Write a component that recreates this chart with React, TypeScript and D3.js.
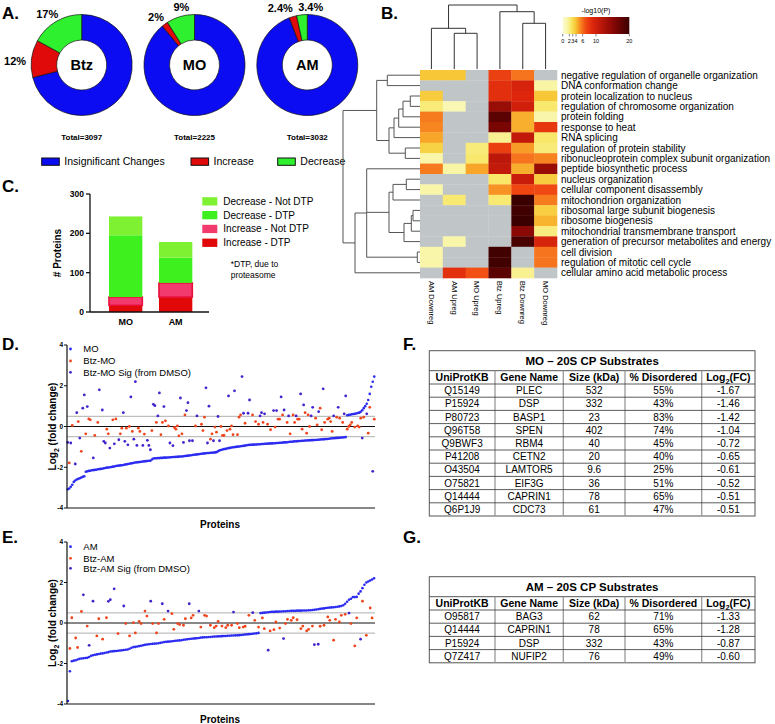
import React from 'react';
import * as d3 from 'd3';

const FONT = "'Liberation Sans', Arial, Helvetica, sans-serif";

// ---------------- Panel A data ----------------
const donutNames = ['Btz', 'MO', 'AM'];
const donutTotals = [3097, 2225, 3032];
const insignificantPct = [71, 89, 94.2];
const increasePct = [12, 2, 2.4];
const decreasePct = [17, 9, 3.4];
const increaseLabels = ['12%', '2%', '2.4%'];
const decreaseLabels = ['17%', '9%', '3.4%'];
const donutLegend = ['Insignificant Changes', 'Increase', 'Decrease'];

// ---------------- Panel B data ----------------
const goTerms = [
  'negative regulation of organelle organization',
  'DNA conformation change',
  'protein localization to nucleus',
  'regulation of chromosome organization',
  'protein folding',
  'response to heat',
  'RNA splicing',
  'regulation of protein stability',
  'ribonucleoprotein complex subunit organization',
  'peptide biosynthetic process',
  'nucleus organization',
  'cellular component disassembly',
  'mitochondrion organization',
  'ribosomal large subunit biogenesis',
  'ribosome biogenesis',
  'mitochondrial transmembrane transport',
  'generation of precursor metabolites and energy',
  'cell division',
  'regulation of mitotic cell cycle',
  'cellular amino acid metabolic process',
];
const heatCols = ['AM Downreg', 'AM Upreg', 'MO Upreg', 'Btz Upreg', 'Btz Downreg', 'MO Downreg'];
const _ = null;
const heatLogP: (number | null)[][] = [
  [3.8, 3.8, _, 7.5, 5.8, _],
  [_, _, _, 8.5, 9.5, 1.4],
  [3.6, _, _, 8.5, 9.0, 3.8],
  [2.2, 1.0, _, 14, 10, 2.4],
  [5.6, _, _, 18, 4.4, 1.2],
  [5.3, _, _, 16, 4.4, 8.0],
  [4.6, _, _, 1.8, 11, 2.5],
  [3.4, _, 2.2, 7.6, 4.8, 2.2],
  [1.3, _, 2.4, 11.5, 5.8, 5.4],
  [5.6, 1.4, 4.6, 11, 4.4, 14],
  [_, _, _, 2.5, 10.5, 3.6],
  [1.3, _, _, 5.0, 7.2, 7.0],
  [_, 2.3, _, 2.3, 20, 5.6],
  [_, _, _, _, 19.5, 3.5],
  [_, _, _, _, 20, 4.3],
  [_, _, _, _, 15, 2.1],
  [_, 1.3, _, _, 19, 9.5],
  [1.3, _, _, 19.5, _, 5.8],
  [1.3, _, _, 19.5, _, 5.8],
  [_, 8.5, 6.8, 18, 1.8, _],
];
const colorbarTicks = [0, 2, 3, 4, 6, 10, 20];
const colorStops = [0, 1.5, 2.7, 4, 5.2, 7, 9, 11, 15, 20];
const colorRange = ['#fcfcd6', '#f8f4a2', '#f8e45c', '#f8c232', '#f78a22', '#f04812', '#dd260c', '#c21a0a', '#8a0805', '#3a0000'];
// row dendrogram merges: [children, distance]
const rowMerges: [number[], number][] = [
  [[0, 1], 32.7], [[2, 3], 9.7], [[21, 4], 17], [[22, 5], 21.3], [[23, 6], 26],
  [[7, 8], 14.7], [[24, 25], 31], [[20, 26], 43.3],
  [[10, 11], 13.7], [[28, 12], 27], [[13, 14], 7], [[30, 15], 8.7], [[31, 16], 16], [[29, 32], 31],
  [[17, 18], 2.7], [[9, 33, 34], 53.3], [[35, 19], 65], [[27, 36], 77],
];
const colMerges: [number[], number][] = [
  [[1, 2], 35.7], [[0, 6], 40.7], [[4, 5], 45.7], [[3, 8], 57.3], [[7, 9], 64],
];

// ---------------- Panel C data ----------------
const cGroups = ['MO', 'AM'];
const increaseDTP = [17, 38];
const increaseNotDTP = [21, 36];
const decreaseDTP = [157, 64];
const decreaseNotDTP = [48, 40];
const cLegend = ['Decrease - Not DTP', 'Decrease - DTP', 'Increase - Not DTP', 'Increase - DTP'];
const cTicks = [0, 100, 200, 300];

// ---------------- Panel D data ----------------
const moFC = [
  -3.08, -3.04, -2.96, -2.86, -2.72, -2.65, -2.6, -2.57, -2.54, -2.5,
  -2.47, -2.44, -2.22, -2.2, -2.18, -2.17, -2.15, -2.14, -2.13, -2.12,
  -2.1, -2.09, -2.08, -2.07, -2.05, -2.04, -2.02, -2.01, -2.0, -1.99,
  -1.97, -1.96, -1.94, -1.93, -1.92, -1.91, -1.9, -1.89, -1.87, -1.86,
  -1.84, -1.83, -1.81, -1.8, -1.78, -1.77, -1.76, -1.75, -1.74, -1.73,
  -1.72, -1.71, -1.7, -1.69, -1.68, -1.68, -1.62, -1.57, -1.56, -1.56,
  -1.55, -1.55, -1.54, -1.54, -1.53, -1.53, -1.52, -1.52, -1.51, -1.51,
  -1.5, -1.5, -1.49, -1.49, -1.48, -1.47, -1.47, -1.46, -1.45, -1.44,
  -1.43, -1.42, -1.41, -1.4, -1.39, -1.38, -1.37, -1.36, -1.35, -1.34,
  -1.33, -1.32, -1.31, -1.3, -1.3, -1.29, -1.29, -1.28, -1.27, -1.26,
  -1.22, -1.17, -1.15, -1.13, -1.11, -1.1, -1.08, -1.06, -1.05, -1.03,
  -1.02, -1.01, -1.0, -0.99, -0.98, -0.97, -0.96, -0.95, -0.94, -0.92,
  -0.91, -0.9, -0.9, -0.89, -0.89, -0.88, -0.88, -0.87, -0.87, -0.86,
  -0.86, -0.85, -0.85, -0.84, -0.84, -0.83, -0.83, -0.82, -0.82, -0.81,
  -0.81, -0.8, -0.8, -0.79, -0.78, -0.78, -0.77, -0.76, -0.75, -0.75,
  -0.74, -0.73, -0.73, -0.72, -0.71, -0.71, -0.7, -0.7, -0.69, -0.69,
  -0.68, -0.68, -0.67, -0.67, -0.66, -0.66, -0.65, -0.65, -0.64, -0.63,
  -0.63, -0.62, -0.61, -0.61, -0.6, -0.59, -0.58, -0.58, -0.57, -0.56,
  -0.56, -0.55, -0.54, -0.54, -0.53, -0.52,
  0.55, 0.57, 0.58, 0.6, 0.61, 0.62, 0.64, 0.66, 0.68, 0.72, 0.8, 0.9, 1.0, 1.12, 1.3, 1.6, 1.95, 2.2, 2.45,
];
// [protein rank, log2 FC]
const btzMO: [number, number][] = [
  [1, -1.79], [3, 0.05], [7, 0.24], [9, -1.22], [12, -0.36], [14, 0.37], [15, 0.33], [18, -0.44], [20, 0.2], [26, -0.13],
  [27, -0.36], [30, 0.33], [32, 0.37], [35, -0.36], [36, -0.08], [39, -0.08], [41, 0], [43, -0.24], [47, -0.08], [48, -0.24],
  [51, -0.37], [56, -0.2], [59, 0.2], [62, -0.4], [63, 0.2], [65, 0.28], [67, 0.03], [71, -0.05], [72, -0.13], [73, 0.03],
  [74, -0.46], [76, -0.36], [78, 0.57], [85, 0.03], [89, 0.11], [90, -0.2], [91, 0.46], [95, -0.62], [96, -0.36], [98, -0.03],
  [99, -0.28], [102, 0], [103, -0.44], [104, -0.44], [106, -0.2], [108, -0.13], [109, 0.03], [110, -0.4], [113, -0.4], [114, 0.46],
  [115, 0.57], [118, 0.16], [123, 0.57], [125, 0.24], [127, 0.11], [130, 0.2], [133, 0.11], [135, -0.16], [138, -0.03], [140, 0.36],
  [141, 0.36], [143, 0.57], [146, 0.2], [148, -0.36], [150, 0.57], [151, 0.2], [153, 0.36], [154, 0.36], [156, -0.13], [158, 0.68],
  [159, -0.33], [160, 0.57], [161, 0], [165, 0.41], [166, 0.08], [168, 0.9], [169, -0.16], [171, 0.2], [173, 0.36], [174, 0.41],
  [175, 0.24], [176, -0.24], [179, 0.46], [181, 0.41], [183, 0.2], [186, -0.13], [187, 0], [188, 0.08], [189, 0.2], [191, -0.03],
  [193, 0.03], [194, -0.03], [195, 0.41], [197, 0.46], [200, -0.33], [201, 0.94], [204, 0.36],
];
const btzMOSig: [number, number][] = [
  [0, -0.78], [2, -0.81], [5, -1.84], [6, 0.68], [8, -0.57], [10, 0.9], [11, 1.55], [13, 0.98], [17, -1.54], [21, 1.8],
  [23, 0.81], [24, -0.73], [25, -0.81], [28, -1.06], [31, -0.85], [34, -0.65], [37, 0.68], [38, -0.73], [40, -0.9], [42, 1.45],
  [44, -0.62], [45, 2.2], [46, -0.93], [50, -0.93], [53, -0.68], [54, -0.93], [55, -1.14], [57, 1.09], [58, 1.02], [60, 0.52],
  [61, 1.65], [64, 0.98], [68, -0.81], [70, -0.94], [75, 1.4], [77, -0.78], [79, 0.78], [80, 1.17], [81, -0.7], [83, -0.7],
  [86, 0.52], [92, 1.9], [93, -0.81], [94, 1.0], [97, -0.7], [100, 0.49], [101, -0.7], [107, 1.5], [111, 1.75], [116, 2.45],
  [117, 0.65], [120, 0.65], [121, 1.3], [128, 0.52], [129, 0.68], [131, 0.62], [137, 0.78], [139, 0.78], [142, 1.45], [144, 0.81],
  [147, 0.52], [152, 0.52], [155, 1.6], [157, 1.06], [162, 0.52], [163, 0.94], [167, 0.73], [170, 1.85], [177, 0.52], [180, 0.94],
  [184, 0.62], [185, 1.5], [196, -0.57], [199, 0.62], [203, -2.2],
];

// ---------------- Panel E data ----------------
const amFC = [
  -3.85, -2.38, -1.89, -1.86, -1.84, -1.8, -1.77, -1.75, -1.74, -1.73,
  -1.72, -1.68, -1.62, -1.59, -1.57, -1.55, -1.53, -1.51, -1.5, -1.48,
  -1.46, -1.44, -1.41, -1.4, -1.39, -1.38, -1.37, -1.36, -1.35, -1.33,
  -1.32, -1.31, -1.27, -1.22, -1.19, -1.18, -1.16, -1.14, -1.12, -1.1,
  -1.08, -1.06, -1.05, -1.04, -1.03, -1.02, -1.01, -1.0, -0.98, -0.96,
  -0.94, -0.93, -0.92, -0.91, -0.9, -0.89, -0.88, -0.87, -0.86, -0.85,
  -0.83, -0.82, -0.8, -0.79, -0.78, -0.77, -0.76, -0.75, -0.74, -0.72,
  -0.71, -0.7, -0.7, -0.69, -0.69, -0.68, -0.67, -0.67, -0.66, -0.66,
  -0.65, -0.64, -0.64, -0.63, -0.63, -0.62, -0.62, -0.61, -0.61, -0.6,
  -0.59, -0.58, -0.57, -0.56, -0.55, -0.54, -0.53, -0.52, -0.51, -0.49,
  0.49, 0.5, 0.51, 0.52, 0.53, 0.54, 0.55, 0.55, 0.56, 0.56,
  0.57, 0.57, 0.58, 0.58, 0.59, 0.59, 0.6, 0.6, 0.6, 0.61,
  0.61, 0.61, 0.62, 0.62, 0.62, 0.63, 0.63, 0.64, 0.65, 0.67,
  0.68, 0.7, 0.71, 0.72, 0.74, 0.75, 0.76, 0.77, 0.78, 0.79,
  0.8, 0.82, 0.84, 0.88, 0.95, 1.05, 1.15, 1.2, 1.28, 1.28,
  1.29, 1.45, 1.56, 1.72, 1.89, 2.0, 2.05, 2.1, 2.15, 2.21,
];
const btzAM: [number, number][] = [
  [1, -1.26], [2, 0.26], [4, -0.74], [5, -1.21], [7, 0.57], [10, -0.15], [15, -0.64], [16, 0.21], [18, -0.8], [20, 0.26],
  [26, -0.52], [30, -0.03], [32, -0.64], [34, 0.02], [35, -0.49], [37, 0.08], [38, -0.03], [40, 0.59], [41, 0.34], [44, -0.03],
  [46, -0.49], [47, -0.03], [50, 0.18], [54, 0.46], [55, -0.31], [57, -0.03], [58, -0.08], [60, -0.11], [61, 0.21], [64, 0.25],
  [65, 0.38], [69, -0.2], [71, 0.38], [72, 0.34], [74, -0.11], [76, -0.23], [77, -0.15], [78, 0.08], [80, -0.15], [82, -0.23],
  [83, -0.11], [85, -0.11], [88, -0.03], [89, -0.23], [91, -0.2], [92, -0.16], [94, 0.38], [97, 0.13], [99, -0.2], [101, 0.25],
  [102, -0.28], [105, -0.39], [107, -0.33], [108, 0.05], [110, -0.25], [113, -0.03], [114, 0.18], [116, 0.13], [117, 0.26], [119, 0.16],
  [121, -0.28], [122, -0.15], [124, -0.39], [125, -0.31], [127, -0.15], [131, -0.16], [133, -0.11], [135, 0.3], [136, 0.13], [138, -0.85],
  [139, 0.18], [141, 0.05], [142, 0.38], [144, 0.43], [147, -0.03], [149, -1.13], [150, 0.25], [153, 1.08], [155, -0.61], [157, 0.74],
  [158, 0.25],
];
const btzAMSig: [number, number][] = [
  [8, 1.39], [11, -1.1], [13, 1.08], [21, 1.07], [22, 1.15], [24, 1.69], [29, 0.84], [43, 1.08], [49, 0.95], [52, 0.59],
  [63, 0.95], [68, 0.59], [86, 0.54], [96, 0.51], [104, -1.34], [112, -0.77], [128, -1.07], [130, -1.05], [146, 0.49], [152, -0.8],
];
const foldTicks = [-4, -2, 0, 2, 4];

// ---------------- Tables F, G ----------------
const tableHeaders = ['UniProtKB', 'Gene Name', 'Size (kDa)', '% Disordered', 'Log2(FC)'];
const moUniprot = ['Q15149', 'P15924', 'P80723', 'Q96T58', 'Q9BWF3', 'P41208', 'O43504', 'O75821', 'Q14444', 'Q6P1J9'];
const moGenes = ['PLEC', 'DSP', 'BASP1', 'SPEN', 'RBM4', 'CETN2', 'LAMTOR5', 'EIF3G', 'CAPRIN1', 'CDC73'];
const moSize = ['532', '332', '23', '402', '40', '20', '9.6', '36', '78', '61'];
const moDisordered = ['55%', '43%', '83%', '74%', '45%', '40%', '25%', '51%', '65%', '47%'];
const moLog2FC = [-1.67, -1.46, -1.42, -1.04, -0.72, -0.65, -0.61, -0.52, -0.51, -0.51];
const amUniprot = ['O95817', 'Q14444', 'P15924', 'Q7Z417'];
const amGenes = ['BAG3', 'CAPRIN1', 'DSP', 'NUFIP2'];
const amSize = ['62', '78', '332', '76'];
const amDisordered = ['71%', '65%', '43%', '49%'];
const amLog2FC = [-1.33, -1.28, -0.87, -0.6];

// ---------------- helpers ----------------
const BLUE = '#0c0cf2', RED = '#e10a0a', GREEN = '#2ef02e';
const C_COLORS = ['#7ef232', '#3ef01e', '#f23a6e', '#e00808'];
const MO_BLUE = '#2a2af0', BTZ_RED = '#f0441c', SIG_PURPLE = '#4422cc';

type Seg = { x1: number; y1: number; x2: number; y2: number };
function dendroSegs(leafPos: number[], merges: [number[], number][], depth: (d: number) => number, horizontal: boolean): Seg[] {
  const nodes = leafPos.map((p) => ({ p, d: 0 }));
  const segs: Seg[] = [];
  for (const [kids, d] of merges) {
    const ks = kids.map((k) => nodes[k]);
    const lo = d3.min(ks, (k) => k.p)!;
    const hi = d3.max(ks, (k) => k.p)!;
    const c = depth(d);
    for (const k of ks) {
      const a = depth(k.d);
      segs.push(horizontal ? { x1: a, y1: k.p, x2: c, y2: k.p } : { x1: k.p, y1: a, x2: k.p, y2: c });
    }
    segs.push(horizontal ? { x1: c, y1: lo, x2: c, y2: hi } : { x1: lo, y1: c, x2: hi, y2: c });
    nodes.push({ p: (lo + hi) / 2, d });
  }
  return segs;
}

function Log2Text({ x, y, size, bold, anchor, suffix, transform }: any) {
  return (
    <text x={x} y={y} fontSize={size} fontWeight={bold ? 'bold' : 'normal'} textAnchor={anchor} transform={transform}>
      Log<tspan dy={size * 0.3} fontSize={size * 0.7}>2</tspan>
      <tspan dy={-size * 0.3}>{suffix}</tspan>
    </text>
  );
}

function PanelA() {
  const pie = d3.pie<number>().sort(null).value((d) => d);
  const arc = d3.arc<d3.PieArcDatum<number>>().innerRadius(25).outerRadius(50.5);
  const cxScale = d3.scalePoint<string>().domain(donutNames).range([81.7, 307.3]);
  const cy = 65;
  const layout = [
    [{ r: 56, anchor: 'end', dx: 0, dy: 3 }, { r: 60, anchor: 'middle', dx: -4, dy: 1 }],
    [{ r: 57, anchor: 'end', dx: 3, dy: -2 }, { r: 58, anchor: 'middle', dx: 3, dy: -2 }],
    [{ r: 58, anchor: 'end', dx: 2, dy: -1 }, { r: 58, anchor: 'start', dx: -3, dy: 0 }],
  ];
  const legendX = [41.7, 191, 277.7];
  const legendCol = [BLUE, RED, GREEN];
  return (
    <g>
      {donutNames.map((name, i) => {
        const cx = cxScale(name)!;
        const arcs = pie([insignificantPct[i], increasePct[i], decreasePct[i]]);
        const labels = [increaseLabels[i], decreaseLabels[i]];
        return (
          <g key={name}>
            <g transform={`translate(${cx},${cy})`}>
              {arcs.map((a, j) => (
                <path key={j} d={arc(a)!} fill={[BLUE, RED, GREEN][j]} stroke="#111" strokeWidth={0.7} />
              ))}
              {[arcs[1], arcs[2]].map((a, j) => {
                const L = layout[i][j];
                const mid = (a.startAngle + a.endAngle) / 2;
                const x = L.r * Math.sin(mid) + L.dx;
                const y = -L.r * Math.cos(mid) + L.dy;
                return (
                  <text key={j} x={x} y={y} dy="0.35em" textAnchor={L.anchor as any} fontSize={11} fontWeight="bold">
                    {labels[j]}
                  </text>
                );
              })}
              <text x={0} y={0} dy="0.36em" textAnchor="middle" fontSize={14.5} fontWeight="bold">{name}</text>
            </g>
            <text x={cx} y={140} textAnchor="middle" fontSize={8} fontWeight="bold">{`Total=${donutTotals[i]}`}</text>
          </g>
        );
      })}
      {donutLegend.map((t, i) => (
        <g key={t}>
          <rect x={legendX[i]} y={158} width={17.6} height={7.3} fill={legendCol[i]} stroke="#111" strokeWidth={1} />
          <text x={legendX[i] + 22.6} y={161.7} dy="0.35em" fontSize={10.5}>{t}</text>
        </g>
      ))}
    </g>
  );
}

function PanelB() {
  const x = d3.scaleBand<string>().domain(heatCols).range([420, 557]);
  const y = d3.scaleBand<string>().domain(goTerms).range([70, 278]);
  const color = d3.scaleLinear<string>().domain(colorStops).range(colorRange).clamp(true);
  const rowSegs = dendroSegs(goTerms.map((g) => y(g)! + y.bandwidth() / 2), rowMerges, d3.scaleLinear().domain([0, 80]).range([420, 340]), true);
  const colSegs = dendroSegs(heatCols.map((c) => x(c)! + x.bandwidth() / 2), colMerges, d3.scaleLinear().domain([0, 64]).range([69, 5]), false);
  const cb = d3.scaleLinear().domain([0, 20]).range([562.7, 629.3]);
  return (
    <g>
      <defs>
        <linearGradient id="cbar" x1="0" x2="1" y1="0" y2="0">
          {colorStops.map((s, i) => (
            <stop key={i} offset={s / 20} stopColor={colorRange[i]} />
          ))}
        </linearGradient>
      </defs>
      {colSegs.map((s, i) => (
        <line key={'c' + i} x1={s.x1} y1={s.y1} x2={s.x2} y2={s.y2} stroke="#333" strokeWidth={1} />
      ))}
      {rowSegs.map((s, i) => (
        <line key={'r' + i} x1={s.x1} y1={s.y1} x2={s.x2} y2={s.y2} stroke="#555" strokeWidth={1} />
      ))}
      {goTerms.map((g, r) =>
        heatCols.map((c, k) => {
          const v = heatLogP[r][k];
          return (
            <rect key={g + c} x={x(c)!} y={y(g)!} width={x.bandwidth() + 0.3} height={y.bandwidth() + 0.3} fill={v == null ? '#c0c5c7' : color(v)} />
          );
        })
      )}
      {goTerms.map((g) => (
        <text key={g} x={561} y={y(g)! + y.bandwidth() / 2} dy="0.35em" fontSize={10}>{g}</text>
      ))}
      {heatCols.map((c) => (
        <text key={c} transform={`translate(${x(c)! + x.bandwidth() / 2},281) rotate(90)`} dy="0.35em" fontSize={7.5}>{c}</text>
      ))}
      <rect x={562.7} y={17} width={66.6} height={17} fill="url(#cbar)" />
      <text x={596} y={13} textAnchor="middle" fontSize={7}>-log10(P)</text>
      {colorbarTicks.map((t) => (
        <g key={t}>
          <line x1={cb(t)} x2={cb(t)} y1={34} y2={36.5} stroke="#333" strokeWidth={0.6} />
          <text x={cb(t)} y={42.5} textAnchor="middle" fontSize={5.5}>{t}</text>
        </g>
      ))}
    </g>
  );
}

function PanelC() {
  const x = d3.scaleBand<string>().domain(cGroups).range([90, 211.3]).paddingInner(0.333).paddingOuter(0.38);
  const y = d3.scaleLinear().domain([0, 300]).range([312, 194]);
  const table = cGroups.map((g, i) => ({ g, a: increaseDTP[i], b: increaseNotDTP[i], c: decreaseDTP[i], d: decreaseNotDTP[i] }));
  const keys = ['a', 'b', 'c', 'd'];
  const stack = d3.stack<any>().keys(keys)(table);
  const fills = [C_COLORS[3], C_COLORS[2], C_COLORS[1], C_COLORS[0]];
  return (
    <g>
      {stack.map((layer, li) =>
        layer.map((seg, i) => (
          <rect key={li + '-' + i} x={x(cGroups[i])!} y={y(seg[1])} width={x.bandwidth()} height={y(seg[0]) - y(seg[1])}
            fill={fills[li]} stroke={li === 1 ? '#e8103a' : 'none'} strokeWidth={li === 1 ? 1.6 : 0} />
        ))
      )}
      <line x1={90} x2={90} y1={194} y2={312} stroke="#111" strokeWidth={1.3} />
      <line x1={90} x2={209} y1={312} y2={312} stroke="#111" strokeWidth={1.3} />
      {cTicks.map((t) => (
        <g key={t}>
          <line x1={86} x2={90} y1={y(t)} y2={y(t)} stroke="#111" strokeWidth={1.3} />
          <text x={84} y={y(t)} dy="0.35em" textAnchor="end" fontSize={8.5} fontWeight="bold">{t}</text>
        </g>
      ))}
      {cGroups.map((g) => (
        <text key={g} x={x(g)! + x.bandwidth() / 2} y={325} textAnchor="middle" fontSize={9} fontWeight="bold">{g}</text>
      ))}
      <text transform={`translate(61,253) rotate(-90)`} textAnchor="middle" fontSize={10} fontWeight="bold"># Proteins</text>
      {cLegend.map((t, i) => (
        <g key={t}>
          <rect x={202.3} y={197.2 + i * 13.8} width={15} height={8.3} fill={C_COLORS[i]} />
          <text x={223.3} y={201.3 + i * 13.8} dy="0.35em" fontSize={10}>{t}</text>
        </g>
      ))}
      <text x={230.7} y={267} fontSize={8.5}>*DTP, due to</text>
      <text x={230.7} y={277.5} fontSize={8.5}>proteasome</text>
    </g>
  );
}

function FoldPanel({ top, bottom, base, btz, sig, names, legendY, protY }: any) {
  const x = d3.scaleLinear().domain([0, base.length]).range([67, 375]);
  const y = d3.scaleLinear().domain([-4, 4]).range([bottom, top]);
  const cols = [MO_BLUE, BTZ_RED, SIG_PURPLE];
  const midY = (top + bottom) / 2;
  return (
    <g>
      <line x1={67} x2={375} y1={y(0.5)} y2={y(0.5)} stroke="#9a9a9a" strokeWidth={0.8} />
      <line x1={67} x2={375} y1={y(-0.5)} y2={y(-0.5)} stroke="#9a9a9a" strokeWidth={0.8} />
      <line x1={67} x2={375} y1={y(0)} y2={y(0)} stroke="#111" strokeWidth={1} />
      {base.map((v: number, i: number) => (
        <circle key={'b' + i} cx={x(i + 0.5)} cy={y(v)} r={1.3} fill={MO_BLUE} />
      ))}
      {btz.map(([i, v]: [number, number]) => (
        <circle key={'r' + i} cx={x(i + 0.5)} cy={y(v)} r={1.4} fill={BTZ_RED} />
      ))}
      {sig.map(([i, v]: [number, number]) => (
        <circle key={'s' + i} cx={x(i + 0.5)} cy={y(v)} r={1.4} fill={SIG_PURPLE} />
      ))}
      <line x1={67} x2={67} y1={top} y2={bottom} stroke="#111" strokeWidth={1.2} />
      <line x1={67} x2={375} y1={bottom} y2={bottom} stroke="#111" strokeWidth={1.2} />
      {foldTicks.map((t) => (
        <g key={t}>
          <line x1={64} x2={67} y1={y(t)} y2={y(t)} stroke="#111" strokeWidth={1} />
          <text x={63} y={y(t)} dy="0.35em" textAnchor="end" fontSize={6.5} fontWeight="bold">{t}</text>
        </g>
      ))}
      <Log2Text x={0} y={0} size={10} bold anchor="middle" suffix=" (fold change)" transform={`translate(56,${midY}) rotate(-90)`} />
      <text x={220} y={protY} dy="0.35em" textAnchor="middle" fontSize={10} fontWeight="bold">Proteins</text>
      {names.map((n: string, i: number) => (
        <g key={n}>
          <circle cx={70.5} cy={legendY[i]} r={1.4} fill={cols[i]} />
          <text x={83.3} y={legendY[i]} dy="0.35em" fontSize={9.5}>{n}</text>
        </g>
      ))}
    </g>
  );
}

function SubTable({ top, title, ids, genes, sizes, dis, fcs }: any) {
  const edges = [429.3, 495, 563.3, 625, 701.7, 755];
  const titleH = 20, headH = 13.3, rowH = 13.2;
  const rows = ids.map((id: string, i: number) => [id, genes[i], sizes[i], dis[i], fcs[i].toFixed(2)]);
  const bottom = top + titleH + headH + rows.length * rowH;
  const mid = (k: number) => (edges[k] + edges[k + 1]) / 2;
  return (
    <g>
      <rect x={edges[0]} y={top} width={edges[5] - edges[0]} height={bottom - top} fill="#fff" stroke="#555" strokeWidth={1} />
      <text x={(edges[0] + edges[5]) / 2} y={top + titleH / 2} dy="0.36em" textAnchor="middle" fontSize={11.5} fontWeight="bold">{title}</text>
      <line x1={edges[0]} x2={edges[5]} y1={top + titleH} y2={top + titleH} stroke="#555" strokeWidth={1} />
      {edges.slice(1, 5).map((e) => (
        <line key={e} x1={e} x2={e} y1={top + titleH} y2={bottom} stroke="#999" strokeWidth={1.3} />
      ))}
      {tableHeaders.map((h, k) =>
        k === 4 ? (
          <Log2Text key={h} x={mid(k)} y={top + titleH + headH / 2 + 3.6} size={10.5} bold anchor="middle" suffix="(FC)" />
        ) : (
          <text key={h} x={mid(k)} y={top + titleH + headH / 2} dy="0.36em" textAnchor="middle" fontSize={10.5} fontWeight="bold">{h}</text>
        )
      )}
      {rows.map((r: string[], i: number) => {
        const y0 = top + titleH + headH + i * rowH;
        return (
          <g key={i}>
            <line x1={edges[0]} x2={edges[5]} y1={y0} y2={y0} stroke="#333" strokeWidth={0.8} />
            {r.map((c, k) => (
              <text key={k} x={mid(k)} y={y0 + rowH / 2} dy="0.36em" textAnchor="middle" fontSize={10}>{c}</text>
            ))}
          </g>
        );
      })}
    </g>
  );
}

export default function App() {
  return (
    <svg width={775} height={724} viewBox="0 0 775 724" fontFamily={FONT}
      style={{ position: 'absolute', left: 0, top: 0, background: '#fff', display: 'block' }}>
      <rect x={0} y={0} width={775} height={724} fill="#fff" />
      <text x={2} y={18.5} fontSize={17} fontWeight="bold">A.</text>
      <text x={381} y={18.5} fontSize={17} fontWeight="bold">B.</text>
      <text x={2} y={191.5} fontSize={17} fontWeight="bold">C.</text>
      <text x={2} y={350} fontSize={17} fontWeight="bold">D.</text>
      <text x={2} y={542.5} fontSize={17} fontWeight="bold">E.</text>
      <text x={403} y={350} fontSize={17} fontWeight="bold">F.</text>
      <text x={403} y={542.5} fontSize={17} fontWeight="bold">G.</text>
      <PanelA />
      <PanelB />
      <PanelC />
      <FoldPanel top={345} bottom={508} base={moFC} btz={btzMO} sig={btzMOSig}
        names={['MO', 'Btz-MO', 'Btz-MO Sig (from DMSO)']} legendY={[349, 361, 372.3]} protY={524} />
      <FoldPanel top={542} bottom={704} base={amFC} btz={btzAM} sig={btzAMSig}
        names={['AM', 'Btz-AM', 'Btz-AM Sig (from DMSO)']} legendY={[546.7, 558.3, 568.3]} protY={719} />
      <SubTable top={350.7} title="MO – 20S CP Substrates" ids={moUniprot} genes={moGenes} sizes={moSize} dis={moDisordered} fcs={moLog2FC} />
      <SubTable top={576.7} title="AM – 20S CP Substrates" ids={amUniprot} genes={amGenes} sizes={amSize} dis={amDisordered} fcs={amLog2FC} />
    </svg>
  );
}
